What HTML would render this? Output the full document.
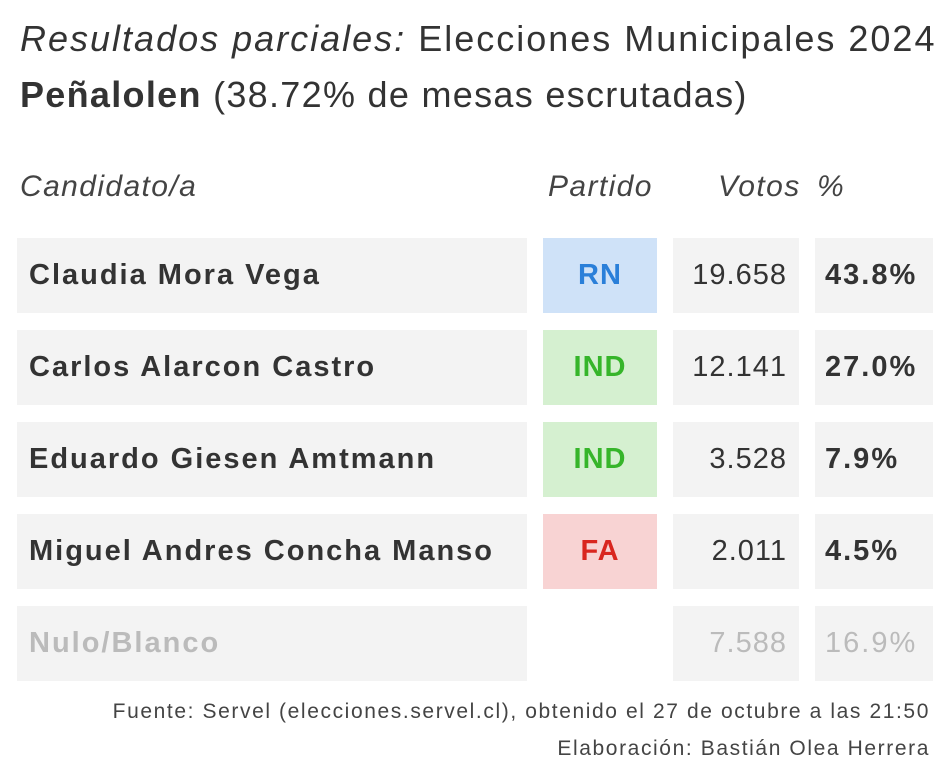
<!DOCTYPE html>
<html><head><meta charset="utf-8">
<style>
body{margin:0;width:950px;height:778px;background:#fff;font-family:"Liberation Sans",sans-serif;color:#333;position:relative;overflow:hidden}
.abs{position:absolute;white-space:nowrap}
.t1{left:20px;top:18px;font-size:36px;color:#333;letter-spacing:2px}
.t2{left:20px;top:74px;font-size:36px;color:#333;letter-spacing:1.3px}
.hd{top:170px;font-size:30px;font-style:italic;color:#444;letter-spacing:1.4px}
.box{position:absolute;height:75px;background:#f3f3f3}
.txt{position:absolute;font-size:29px;line-height:75px;white-space:nowrap;letter-spacing:2px}
.foot{right:20px;font-size:21px;color:#444;letter-spacing:1.6px}
</style></head>
<body>
<div class="abs t1"><i>Resultados parciales:</i> Elecciones Municipales 2024</div>
<div class="abs t2"><b>Peñalolen</b> (38.72% de mesas escrutadas)</div>
<div class="abs hd" style="left:20px">Candidato/a</div>
<div class="abs hd" style="left:548px">Partido</div>
<div class="abs hd" style="left:718px">Votos</div>
<div class="abs hd" style="left:817px">%</div>
<div id="rows"></div>
<div class="abs foot" style="top:700px">Fuente: Servel (elecciones.servel.cl), obtenido el 27 de octubre a las 21:50</div>
<div class="abs foot" style="top:737px">Elaboración: Bastián Olea Herrera</div>
<script>
const candidates=["Claudia Mora Vega","Carlos Alarcon Castro","Eduardo Giesen Amtmann","Miguel Andres Concha Manso","Nulo/Blanco"];
const parties=["RN","IND","IND","FA",""];
const votes=[19658,12141,3528,2011,7588];
const partyColors={RN:["#cfe2f8","#2a7fd9"],IND:["#d5f0d0","#36b52a"],FA:["#f8d3d3","#d9261f"]};
const total=votes.reduce((a,b)=>a+b,0);
const root=document.getElementById('rows');
function fmt(n){return String(n).replace(/\B(?=(\d{3})+(?!\d))/g,'.');}
candidates.forEach((c,i)=>{
  const y=238+i*92;const nulo=parties[i]==="";
  const col=nulo?"#bbb":"#333";
  const mk=(x,w,bg,name)=>{const d=document.createElement('div');d.className='box';d.style.left=x+'px';d.style.top=y+'px';d.style.width=w+'px';d.style.background=bg;
    
    
    root.appendChild(d);return d;};
  const tx=(d,text,style)=>{const s=document.createElement('div');s.className='txt';Object.assign(s.style,style);s.textContent=text;
    
    
    d.appendChild(s);};
  const n=mk(17,510,'#f3f3f3','candidate-cell');
  tx(n,c,{left:'12px',fontWeight:'bold',color:col});
  if(!nulo){const pc=partyColors[parties[i]];const p=mk(543,114,pc[0],'party-cell');
    tx(p,parties[i],{left:0,width:'114px',textAlign:'center',fontWeight:'bold',color:pc[1],letterSpacing:'1px'});}
  const v=mk(673,126,'#f3f3f3','votes-cell');
  tx(v,fmt(votes[i]),{right:'12px',color:nulo?'#bbb':'#333',letterSpacing:'1px'});
  const q=mk(815,118,'#f3f3f3','percent-cell');
  tx(q,(votes[i]/total*100).toFixed(1)+'%',{left:'10px',fontWeight:nulo?'normal':'bold',color:col});
});
</script>
</body></html>
